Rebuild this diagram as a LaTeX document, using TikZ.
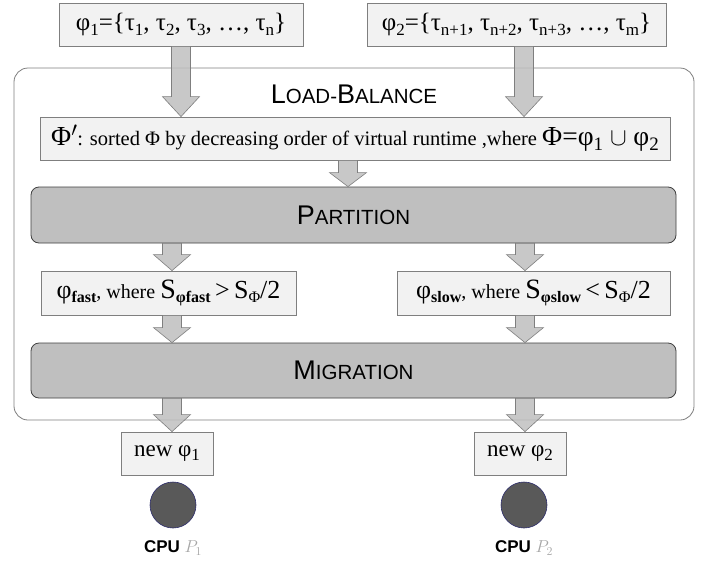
\documentclass[tikz,border=0pt]{standalone}
\usepackage{fontspec}
\setmainfont{Liberation Serif}
\setsansfont{Liberation Sans}
\usetikzlibrary{calc}
\definecolor{boxfill}{HTML}{F2F2F2}
\definecolor{boxline}{HTML}{7F7F7F}
\definecolor{procfill}{HTML}{BFBFBF}
\definecolor{procline}{HTML}{404040}
\definecolor{arrfill}{HTML}{BFBFBF}
\definecolor{arrline}{HTML}{7F7F7F}
\definecolor{cpufill}{HTML}{595959}
\definecolor{cpuline}{HTML}{2B2B6B}
\newcommand\lowr[2][16]{\raisebox{-4.5pt}{\fontsize{#1}{#1}\selectfont #2}}
\newcommand\bigc[1]{{\fontsize{27}{30}\selectfont #1}}
\newcommand\smc[1]{{\fontsize{20.5}{24}\selectfont #1}}
\newcommand\fsz[1]{\fontsize{#1}{#1}\selectfont}
\newcommand\blockarr[4]{%
 \filldraw[barrow] let \p1=(#2), \p2=(#3) in
 (#1pt-9.5pt,\y1) -- (#1pt+9.5pt,\y1) -- (#1pt+9.5pt,\y2+#4pt) -- (#1pt+18.5pt,\y2+#4pt)
 -- (#1pt,\y2) -- (#1pt-18.5pt,\y2+#4pt) -- (#1pt-9.5pt,\y2+#4pt) -- cycle;}
\tikzset{
 databox/.style={draw=boxline, fill=boxfill, line width=0.8pt, inner sep=0pt, minimum height=43pt},
 procbox/.style={draw=procline, fill=procfill, rounded corners=8pt, line width=0.8pt, inner sep=0pt, minimum width=645pt},
 lbframe/.style={draw=boxline, fill=white, rounded corners=14pt, line width=0.8pt, inner sep=0pt},
 barrow/.style={draw=arrline, fill=arrfill, fill opacity=0.85, line width=0.6pt, line join=miter},
 cpu/.style={circle, draw=cpuline, fill=cpufill, line width=0.6pt, minimum size=46pt, inner sep=0pt},
 captext/.style={font=\sffamily, text=black, inner sep=0pt},
}
\begin{document}
\begin{tikzpicture}[x=1pt,y=-1pt]
\useasboundingbox (0,0) rectangle (707,563);
\node[lbframe, minimum width=680pt, minimum height=352pt] (lb) at (354,244) {};
\node[captext, anchor=base] (lbt) at (354,103) {\bigc{L}\smc{OAD-}\bigc{B}\smc{ALANCE}};
\node[databox, minimum width=244pt] (box1) at (181,24.5)
 {\fsz{25}φ\lowr[17]{1}=\{τ\lowr[17]{1}, τ\lowr[17]{2}, τ\lowr[17]{3}, …, τ\lowr[17]{n}\}};
\node[databox, minimum width=299pt] (box2) at (516.5,24.5)
 {\fsz{25}φ\lowr[17]{2}=\{τ\lowr[17]{n+1}, τ\lowr[17]{n+2}, τ\lowr[17]{n+3}, …, τ\lowr[17]{m}\}};
\node[databox, minimum width=630pt] (phi) at (355,138.5)
 {{\fsz{27.5}Φ$'$}{\fsz{20.5}: sorted Φ by decreasing order of virtual runtime ,where }{\fsz{27.5}Φ=φ\lowr[19]{1} $\cup$ φ\lowr[19]{2}}};
\node[procbox, minimum height=56pt] (part) at (353.5,215) {};
\node[captext] (partt) at (part.center) {\bigc{P}\smc{ARTITION}};
\node[databox, minimum width=255pt, minimum height=44pt] (fast) at (168.5,293)
 {{\fsz{26}φ}\lowr{\bfseries fast}{\fsz{20}, where }{\fsz{28}S}\lowr{\bfseries φfast}{\fsz{26}\,>\,S}\lowr{Φ}{\fsz{26}/2}};
\node[databox, minimum width=273pt, minimum height=44pt] (slow) at (533.5,293)
 {{\fsz{26}φ}\lowr{\bfseries slow}{\fsz{20}, where }{\fsz{28}S}\lowr{\bfseries φslow}{\fsz{26}\,<\,S}\lowr{Φ}{\fsz{26}/2}};
\node[procbox, minimum height=55pt] (mig) at (353.5,370.5) {};
\node[captext] (migt) at (mig.center) {\bigc{M}\smc{IGRATION}};
\node[databox, minimum width=92pt] (new1) at (167,453.5) {\fsz{23}new φ\lowr[17]{1}};
\node[databox, minimum width=92pt] (new2) at (520,453.5) {\fsz{23}new φ\lowr[17]{2}};
\node[cpu] (cpu1) at (173,505) {};
\node[cpu] (cpu2) at (524,505) {};
\node[captext, font=\fsz{17}\sffamily\bfseries] (cpu1l) at (173,548) {CPU \textcolor{gray!70}{\mdseries$P_1$}};
\node[captext, font=\fsz{17}\sffamily\bfseries] (cpu2l) at (524,548) {CPU \textcolor{gray!70}{\mdseries$P_2$}};
\blockarr{181}{box1.south}{phi.north}{20}
\blockarr{524}{box2.south}{phi.north}{20}
\blockarr{348}{phi.south}{part.north}{14}
\blockarr{172}{part.south}{fast.north}{16}
\blockarr{525}{part.south}{slow.north}{16}
\blockarr{172}{fast.south}{mig.north}{15}
\blockarr{525}{slow.south}{mig.north}{15}
\blockarr{172}{mig.south}{new1.north}{17}
\blockarr{525}{mig.south}{new2.north}{17}
\end{tikzpicture}
\end{document}
